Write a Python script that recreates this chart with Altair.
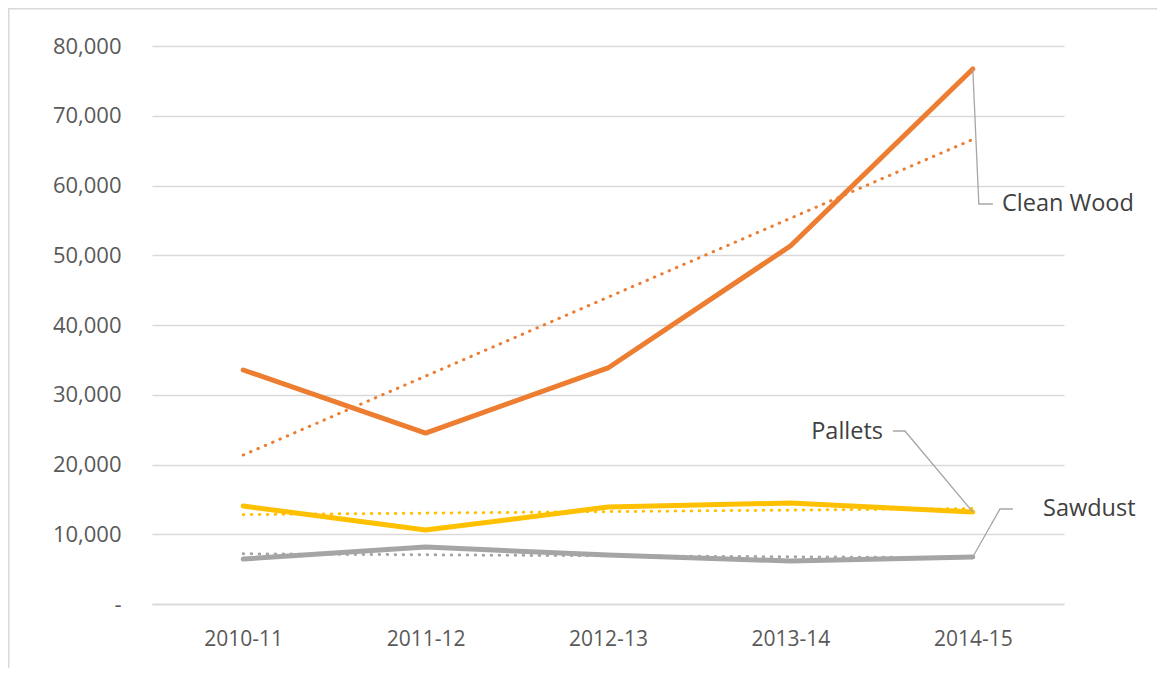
import altair as alt
import numpy as np
import pandas as pd

years = ["2010-11", "2011-12", "2012-13", "2013-14", "2014-15"]
clean_wood = [33550, 24500, 33840, 51330, 76700]
pallets = [14050, 10600, 13900, 14480, 13190]
sawdust = [6450, 8170, 7020, 6160, 6740]

series_names = ["Clean Wood", "Pallets", "Sawdust"]
series_colors = ["#ED7D31", "#FFC000", "#A5A5A5"]
series_values = [clean_wood, pallets, sawdust]

# annotation leader lines (data units: x = category index, y = value)
leader_x = [[5.0, 5.033, 5.11], [5.0, 4.628, 4.562], [5.0, 5.149, 5.22]]
leader_y = [[76700, 57350, 57350], [13190, 24800, 24800], [6740, 13620, 13620]]
label_x = [5.16, 4.508, 5.385]
label_y = [57350, 24700, 13550]
label_align = ["left", "right", "left"]

idx = np.arange(1, len(years) + 1)
rows, trend_rows = [], []
for name, vals in zip(series_names, series_values):
    slope, intercept = np.polyfit(idx, vals, 1)
    for i, (yr, v) in enumerate(zip(years, vals)):
        rows.append({"series": name, "i": i + 1, "year": yr, "value": v})
        trend_rows.append({"series": name, "i": i + 1, "value": slope * (i + 1) + intercept})
df = pd.DataFrame(rows)
tdf = pd.DataFrame(trend_rows)

lrows = []
for name, xs, ys in zip(series_names, leader_x, leader_y):
    for k, (x, y) in enumerate(zip(xs, ys)):
        lrows.append({"series": name, "k": k, "x": x, "y": y})
ldf = pd.DataFrame(lrows)
txt = pd.DataFrame({"series": series_names, "x": label_x, "y": label_y, "align": label_align})

label_expr = "[" + ",".join("'%s'" % y for y in years) + "][datum.value-1]"
xscale = alt.Scale(domain=[0.5, len(years) + 0.5], nice=False, zero=False)
yscale = alt.Scale(domain=[0, 80000], nice=False)
color = alt.Color("series:N", scale=alt.Scale(domain=series_names, range=series_colors), legend=None)

x_enc = alt.X("i:Q", scale=xscale, title=None,
              axis=alt.Axis(values=list(range(1, len(years) + 1)), labelExpr=label_expr,
                            grid=False, ticks=False, domain=True, domainColor="#D9D9D9",
                            domainWidth=1.5, labelPadding=24, labelFontSize=21,
                            labelColor="#595959", labelFont="Open Sans"))
y_enc = alt.Y("value:Q", scale=yscale, title=None,
              axis=alt.Axis(values=list(range(0, 80001, 10000)),
                            labelExpr="datum.value == 0 ? '-' : format(datum.value, ',')",
                            grid=True, gridColor="#D9D9D9", gridWidth=1.5, ticks=False,
                            domain=False, labelPadding=31, labelFontSize=22,
                            labelColor="#595959", labelFont="Open Sans"))

lines = alt.Chart(df).mark_line(strokeWidth=5, strokeCap="round", strokeJoin="round").encode(
    x=x_enc, y=y_enc, color=color, detail="series:N")

trend = alt.Chart(tdf).mark_line(strokeWidth=3, strokeCap="round", strokeDash=[0.5, 7.5]).encode(
    x=alt.X("i:Q", scale=xscale), y=alt.Y("value:Q", scale=yscale), color=color, detail="series:N")

leaders = alt.Chart(ldf).mark_line(color="#A6A6A6", strokeWidth=1.3).encode(
    x=alt.X("x:Q", scale=xscale), y=alt.Y("y:Q", scale=yscale), detail="series:N", order="k:Q")

texts = []
for name, al in zip(series_names, label_align):
    texts.append(alt.Chart(txt[txt.series == name]).mark_text(
        align=al, baseline="middle", fontSize=23.5, font="Open Sans", color="#404040").encode(
        x=alt.X("x:Q", scale=xscale), y=alt.Y("y:Q", scale=yscale), text="series:N"))

# chart-area frame (left and top edges, as in the reference)
frame_src = pd.DataFrame({"a": [0]})
frame_left = alt.Chart(frame_src).mark_rule(color="#D9D9D9", strokeWidth=1.5).encode(
    x=alt.value(-143.25), y=alt.value(-37.25), y2=alt.value(700))
frame_top = alt.Chart(frame_src).mark_rule(color="#D9D9D9", strokeWidth=1.5).encode(
    x=alt.value(-144), x2=alt.value(1100), y=alt.value(-37.25))

chart = alt.layer(frame_left, frame_top, lines, trend, leaders, *texts).properties(
    width=912, height=558,
    autosize=alt.AutoSizeParams(type="none"),
    padding={"left": 144, "top": 38, "right": 93, "bottom": 64},
).configure(background="white").configure_view(stroke="transparent", strokeWidth=0)

chart.save("out.html", embed_options={"renderer": "svg", "actions": False})
